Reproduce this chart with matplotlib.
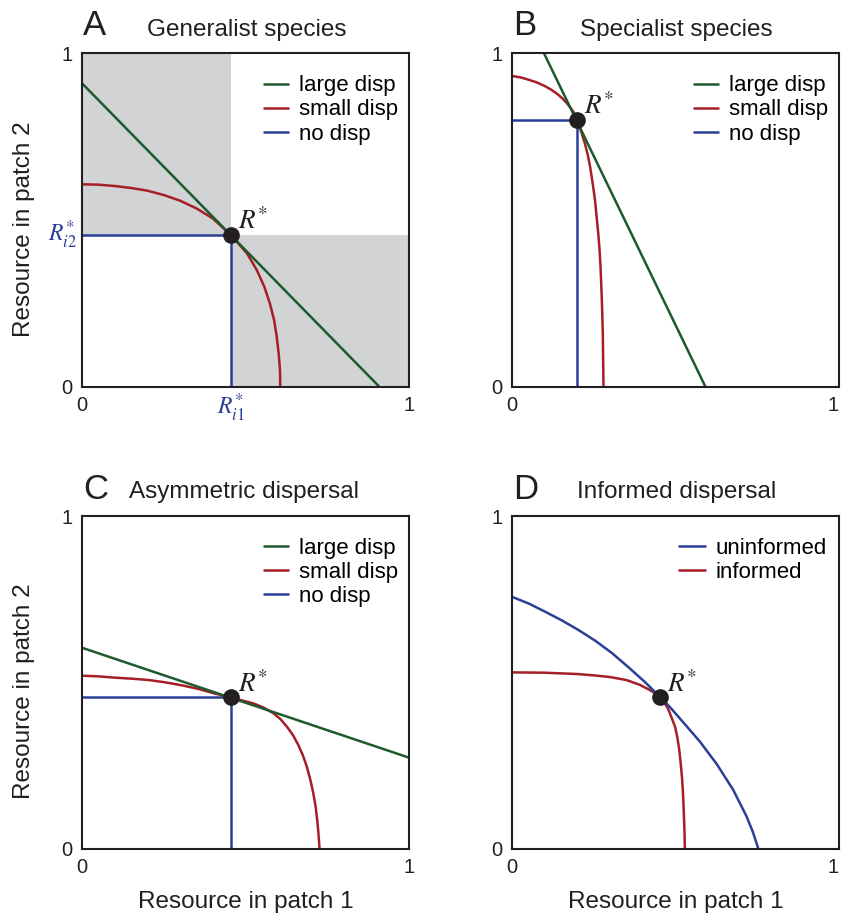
import matplotlib
matplotlib.use("Agg")
from matplotlib import pyplot as plt

plt.rcParams['font.family'] = ['Liberation Sans', 'DejaVu Sans']
plt.rcParams['mathtext.fontset'] = 'stix'

GREEN = '#1d5a2e'
RED = '#a61e26'
BLUE = '#2b3f97'
GREY = '#d1d3d4'
INK = '#231f20'

W, H = 841, 917

letters = ['A', 'B', 'C', 'D']
titles = ['Generalist species', 'Specialist species', 'Asymmetric dispersal', 'Informed dispersal']
disp_labels = ['large disp', 'small disp', 'no disp']
inf_labels = ['uninformed', 'informed']

# panel A - generalist species
a_rstar = (0.455, 0.455)
a_large_x = [0.0, 0.91]
a_large_y = [0.91, 0.0]
a_small_x = [0.000, 0.050, 0.100, 0.150, 0.200, 0.250, 0.300, 0.350, 0.400, 0.430, 0.455,
             0.478, 0.505, 0.535, 0.558, 0.575, 0.588, 0.596, 0.602, 0.606, 0.607]
a_small_y = [0.607, 0.606, 0.602, 0.596, 0.588, 0.575, 0.558, 0.535, 0.505, 0.478, 0.455,
             0.430, 0.400, 0.350, 0.300, 0.250, 0.200, 0.150, 0.100, 0.050, 0.000]

# panel B - specialist species
b_rstar = (0.200, 0.800)
b_large_x = [0.098, 0.592]
b_large_y = [1.0, 0.0]
b_small_x = [0.000, 0.025, 0.050, 0.075, 0.100, 0.120, 0.140, 0.155, 0.170, 0.187, 0.200,
             0.210, 0.223, 0.232, 0.239, 0.247, 0.254, 0.259, 0.264, 0.268, 0.271, 0.275,
             0.278, 0.279, 0.280]
b_small_y = [0.932, 0.928, 0.921, 0.913, 0.902, 0.891, 0.877, 0.864, 0.848, 0.826, 0.800,
             0.770, 0.730, 0.695, 0.660, 0.610, 0.560, 0.510, 0.460, 0.410, 0.360, 0.260,
             0.160, 0.080, 0.000]

# panel C - asymmetric dispersal
c_rstar = (0.455, 0.455)
c_large_x = [0.0, 1.0]
c_large_y = [0.604, 0.274]
c_small_x = [0.000, 0.050, 0.102, 0.153, 0.204, 0.255, 0.306, 0.357, 0.408, 0.430, 0.455,
             0.484, 0.524, 0.556, 0.586, 0.608, 0.627, 0.646, 0.662, 0.676, 0.688, 0.699,
             0.708, 0.715, 0.720, 0.724, 0.727]
c_small_y = [0.520, 0.518, 0.514, 0.511, 0.507, 0.500, 0.491, 0.480, 0.466, 0.461, 0.455,
             0.447, 0.437, 0.424, 0.407, 0.389, 0.367, 0.341, 0.312, 0.281, 0.247, 0.207,
             0.167, 0.127, 0.086, 0.043, 0.000]

# panel D - informed dispersal
d_rstar = (0.454, 0.455)
d_unif_x = [0.000, 0.051, 0.102, 0.153, 0.204, 0.255, 0.306, 0.357, 0.408, 0.454, 0.484,
            0.524, 0.575, 0.627, 0.677, 0.718, 0.737, 0.754]
d_unif_y = [0.757, 0.737, 0.712, 0.686, 0.657, 0.625, 0.588, 0.545, 0.500, 0.455, 0.425,
            0.380, 0.322, 0.254, 0.177, 0.097, 0.051, 0.000]
d_inf_x = [0.000, 0.100, 0.200, 0.250, 0.300, 0.350, 0.390, 0.420, 0.440, 0.454, 0.466,
           0.478, 0.490, 0.499, 0.506, 0.512, 0.517, 0.521, 0.524, 0.526, 0.528, 0.529]
d_inf_y = [0.530, 0.529, 0.525, 0.521, 0.516, 0.507, 0.493, 0.478, 0.466, 0.455, 0.440,
           0.420, 0.390, 0.367, 0.335, 0.297, 0.250, 0.206, 0.155, 0.106, 0.053, 0.000]

# axes boxes in pixels: left, top, right, bottom
boxes = [(82, 53.3, 408.7, 386.7), (512, 53.3, 838.7, 386.7),
         (82, 516, 408.7, 848.7), (512, 516, 838.7, 848.7)]
letter_pos = [(83, 35), (513, 35), (83, 499), (513, 499)]
title_pos = [(147, 36), (580, 36), (129, 498), (577, 498)]

fig = plt.figure(figsize=(W / 100, H / 100), dpi=100)


def make_axes(box):
    l, t, r, b = box
    ax = fig.add_axes([l / W, 1 - b / H, (r - l) / W, (b - t) / H])
    ax.set_xlim(0, 1)
    ax.set_ylim(0, 1)
    ax.set_xticks([0, 1], ['0', '1'])
    ax.set_yticks([0, 1], ['0', '1'])
    ax.tick_params(length=0, labelsize=14.5, pad=7, colors=INK)
    for s in ax.spines.values():
        s.set_linewidth(1.5)
        s.set_color(INK)
        s.set_zorder(6)
    return ax


def curve(ax, x, y, color, z):
    h, = ax.plot(x, y, color=color, lw=1.8, zorder=z,
                 solid_joinstyle='round', solid_capstyle='butt')
    return h


def mark_rstar(ax, rstar):
    ax.plot(rstar[0], rstar[1], 'o', ms=11, color=INK, zorder=7, clip_on=False)
    ax.annotate(r'$R^{*}$', xy=rstar, xytext=(5, 4), textcoords='offset points',
                fontsize=19.5, color=INK, ha='left', va='baseline', zorder=8)


def draw_disp(ax, rstar, large, small, labels):
    rx, ry = rstar
    h_no = curve(ax, [0, rx, rx], [ry, ry, 0], BLUE, 3)
    h_small = curve(ax, small[0], small[1], RED, 4)
    h_large = curve(ax, large[0], large[1], GREEN, 5)
    mark_rstar(ax, rstar)
    ax.legend([h_large, h_small, h_no], labels, loc='upper left',
              bbox_to_anchor=(0.554, 0.934), frameon=False, fontsize=16,
              handlelength=1.15, handletextpad=0.45, labelspacing=0.14,
              borderpad=0, borderaxespad=0)


axes = [make_axes(b) for b in boxes]
axA, axB, axC, axD = axes

# A: shaded quadrants and R*_i labels on the axes
rx, ry = a_rstar
axA.fill_between([0, rx], ry, 1, color=GREY, lw=0, zorder=1)
axA.fill_between([rx, 1], 0, ry, color=GREY, lw=0, zorder=1)
draw_disp(axA, a_rstar, (a_large_x, a_large_y), (a_small_x, a_small_y), disp_labels)
axA.text(rx, -0.015, r'$R^{*}_{i1}$', transform=axA.get_xaxis_transform(),
         ha='center', va='top', fontsize=17, color=BLUE)
axA.text(-0.015, ry, r'$R^{*}_{i2}$', transform=axA.get_yaxis_transform(),
         ha='right', va='center', fontsize=17, color=BLUE)

draw_disp(axB, b_rstar, (b_large_x, b_large_y), (b_small_x, b_small_y), disp_labels)
draw_disp(axC, c_rstar, (c_large_x, c_large_y), (c_small_x, c_small_y), disp_labels)

h_inf = curve(axD, d_inf_x, d_inf_y, RED, 4)
h_unif = curve(axD, d_unif_x, d_unif_y, BLUE, 5)
mark_rstar(axD, d_rstar)
axD.legend([h_unif, h_inf], inf_labels, loc='upper left',
           bbox_to_anchor=(0.508, 0.934), frameon=False, fontsize=16,
           handlelength=1.25, handletextpad=0.45, labelspacing=0.14,
           borderpad=0, borderaxespad=0)

# right-hand "1" sits at the figure edge; keep it inside
for ax in (axB, axD):
    ax.get_xticklabels()[-1].set_horizontalalignment('right')

for ax in (axA, axC):
    ax.set_ylabel('Resource in patch 2', fontsize=17.5, color=INK)
    ax.yaxis.set_label_coords(-0.144, 0.473)
for ax in (axC, axD):
    ax.set_xlabel('Resource in patch 1', fontsize=17.5, color=INK)
    ax.xaxis.set_label_coords(0.502, -0.127)

for i in range(4):
    lx, ly = letter_pos[i]
    fig.text(lx / W, 1 - ly / H, letters[i], fontsize=25, color=INK, va='baseline')
    tx, ty = title_pos[i]
    fig.text(tx / W, 1 - ty / H, titles[i], fontsize=17.5, color=INK, va='baseline')

fig.savefig('out.png', dpi=100)
